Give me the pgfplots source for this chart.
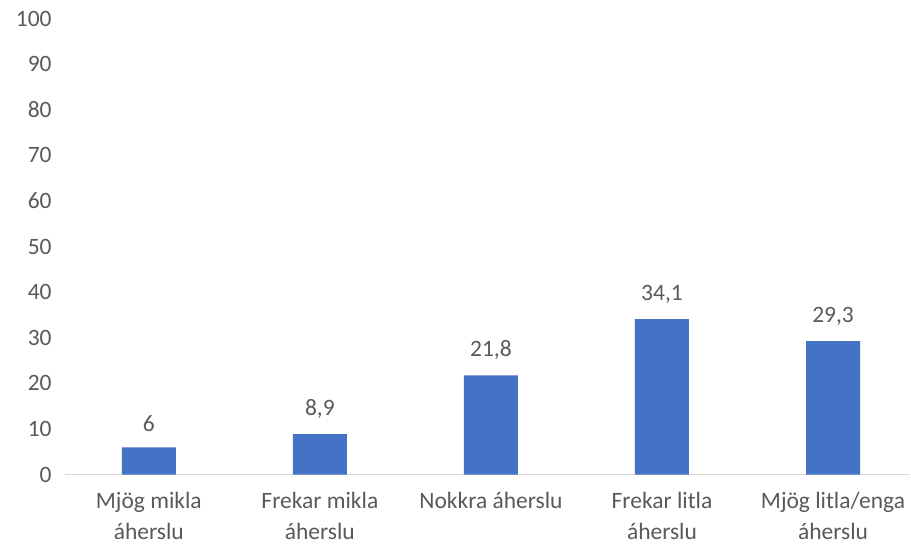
\documentclass[border=0pt]{standalone}
\usepackage{pgfplots}
\pgfplotsset{compat=1.18}
\usepackage{fontspec}
\setmainfont{Carlito}
\definecolor{barblue}{HTML}{4472C4}
\definecolor{txtgray}{HTML}{595959}
\definecolor{axgray}{HTML}{D9D9D9}
\begin{document}
\begin{tikzpicture}
\begin{axis}[
    scale only axis,
    width=633.75pt, height=342pt,
    xmin=-0.49, xmax=4.45,
    ymin=0, ymax=100,
    ytick={0,10,...,100},
    xtick=data,
    xticklabels={{Mjög mikla\\áherslu},{Frekar mikla\\áherslu},{Nokkra áherslu},{Frekar litla\\áherslu},{Mjög litla/enga\\áherslu}},
    axis x line*=bottom,
    axis y line*=left,
    x axis line style={draw=axgray, line width=1pt, -},
    y axis line style={draw=none},
    major tick length=0pt,
    tick label style={font=\fontsize{17.6}{23}\selectfont, text=txtgray},
    xticklabel style={align=center, yshift=-10pt},
    yticklabel style={xshift=-6.5pt},
    /pgf/number format/assume math mode=true,
    ybar, bar width=40.5pt,
    nodes near coords,
    nodes near coords style={font=\fontsize{17.6}{23}\selectfont, text=txtgray, yshift=8.5pt,
        /pgf/number format/use comma},
    clip=false,
]
\addplot[fill=barblue, draw=none] coordinates {
    (0, 6) (1, 8.9) (2, 21.8) (3, 34.1) (4, 29.3)
};
\end{axis}
\pgfresetboundingbox
\path (-48.75pt,-55pt) rectangle (634.5pt,356pt);
\end{tikzpicture}
\end{document}
